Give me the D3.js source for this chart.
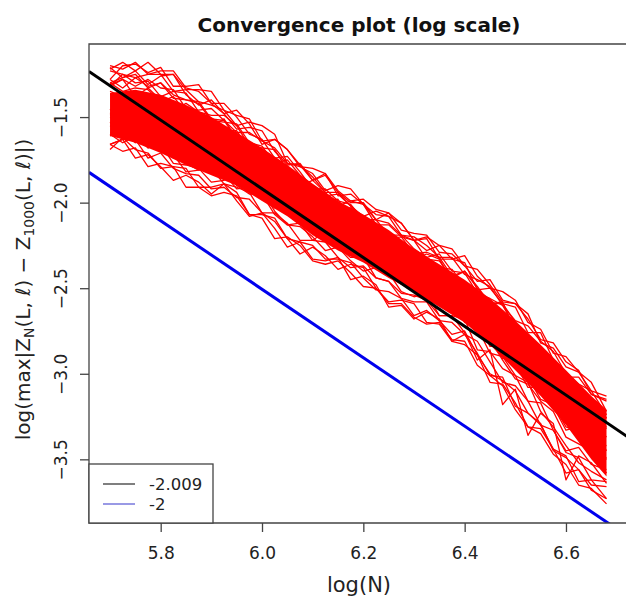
<!DOCTYPE html>
<html>
<head>
<meta charset="utf-8">
<script src="https://cdn.jsdelivr.net/npm/d3@7"></script>
<style>
  body { margin: 0; background: #fff; }
  svg { display: block; font-family: "DejaVu Sans", sans-serif; }
</style>
</head>
<body>
<svg id="chart" width="626" height="597"></svg>
<script>
//* Data
const logN = [5.700, 5.725, 5.750, 5.775, 5.800, 5.825, 5.850, 5.875, 5.900, 5.925,
  5.950, 5.975, 6.000, 6.025, 6.050, 6.075, 6.100, 6.125, 6.150, 6.175,
  6.200, 6.225, 6.250, 6.275, 6.300, 6.325, 6.350, 6.375, 6.400, 6.425,
  6.450, 6.475, 6.500, 6.525, 6.550, 6.575, 6.600, 6.625, 6.650, 6.680];

// individual runs of the error curve
const run01 = [-1.22,-1.18,-1.23,-1.18,-1.25,-1.25,-1.34,-1.34,-1.35,-1.46,-1.49,-1.51,-1.64,-1.63,-1.69,-1.79,-1.80,-1.83,-1.93,-1.99,-1.98,-2.04,-2.06,-2.16,-2.18,-2.19,-2.29,-2.30,-2.37,-2.39,-2.48,-2.58,-2.59,-2.68,-2.80,-2.82,-2.93,-2.98,-3.12,-3.15];
const run02 = [-1.20,-1.22,-1.18,-1.25,-1.23,-1.23,-1.33,-1.35,-1.42,-1.42,-1.50,-1.60,-1.63,-1.74,-1.73,-1.82,-1.92,-1.96,-1.95,-2.02,-2.10,-2.10,-2.19,-2.19,-2.27,-2.32,-2.30,-2.40,-2.41,-2.53,-2.56,-2.60,-2.73,-2.83,-2.85,-2.96,-3.00,-3.14,-3.17,-3.28];
const run03 = [-1.30,-1.27,-1.25,-1.33,-1.30,-1.37,-1.40,-1.41,-1.51,-1.52,-1.59,-1.59,-1.64,-1.68,-1.77,-1.79,-1.83,-1.93,-1.90,-1.92,-2.01,-2.07,-2.08,-2.12,-2.22,-2.20,-2.25,-2.33,-2.31,-2.43,-2.50,-2.52,-2.57,-2.70,-2.74,-2.88,-2.90,-2.99,-3.10,-3.13];
const run04 = [-1.23,-1.25,-1.27,-1.25,-1.25,-1.35,-1.34,-1.41,-1.43,-1.46,-1.55,-1.53,-1.55,-1.60,-1.77,-1.78,-1.85,-1.94,-1.94,-2.00,-2.00,-2.10,-2.12,-2.19,-2.20,-2.25,-2.32,-2.32,-2.42,-2.45,-2.49,-2.60,-2.69,-2.72,-2.81,-2.87,-3.00,-3.06,-3.10,-3.24];
const run05 = [-1.28,-1.33,-1.27,-1.32,-1.30,-1.39,-1.40,-1.42,-1.52,-1.53,-1.54,-1.65,-1.67,-1.77,-1.75,-1.84,-1.92,-1.92,-1.99,-2.01,-2.10,-2.13,-2.13,-2.20,-2.30,-2.29,-2.32,-2.43,-2.40,-2.50,-2.59,-2.59,-2.70,-2.82,-2.85,-3.00,-3.00,-3.13,-3.15,-3.26];
const run06 = [-1.35,-1.38,-1.35,-1.43,-1.41,-1.42,-1.52,-1.54,-1.60,-1.59,-1.63,-1.72,-1.76,-1.86,-1.85,-1.90,-2.01,-2.04,-2.03,-2.10,-2.18,-2.18,-2.27,-2.27,-2.35,-2.40,-2.38,-2.48,-2.49,-2.62,-2.65,-2.70,-2.82,-2.92,-2.95,-3.06,-3.10,-3.24,-3.27,-3.37];
const run07 = [-1.46,-1.43,-1.42,-1.51,-1.48,-1.56,-1.59,-1.60,-1.69,-1.69,-1.76,-1.76,-1.85,-1.89,-1.99,-2.01,-2.04,-2.13,-2.13,-2.15,-2.24,-2.31,-2.32,-2.36,-2.46,-2.43,-2.49,-2.57,-2.55,-2.68,-2.77,-2.80,-2.86,-2.99,-3.04,-3.19,-3.22,-3.30,-3.40,-3.42];
const run08 = [-1.50,-1.53,-1.56,-1.56,-1.56,-1.67,-1.68,-1.73,-1.74,-1.76,-1.84,-1.89,-1.89,-2.01,-2.07,-2.08,-2.14,-2.22,-2.21,-2.27,-2.27,-2.38,-2.40,-2.47,-2.48,-2.52,-2.60,-2.60,-2.70,-2.74,-2.80,-2.92,-3.03,-3.06,-3.16,-3.22,-3.37,-3.41,-3.45,-3.58];
const run09 = [-1.61,-1.58,-1.65,-1.63,-1.70,-1.72,-1.82,-1.81,-1.80,-1.89,-1.91,-1.94,-2.06,-2.06,-2.12,-2.22,-2.22,-2.23,-2.32,-2.38,-2.37,-2.44,-2.46,-2.56,-2.58,-2.58,-2.69,-2.70,-2.77,-2.81,-2.93,-3.05,-3.07,-3.16,-3.30,-3.33,-3.46,-3.49,-3.62,-3.63];
const run10 = [-1.66,-1.70,-1.68,-1.79,-1.77,-1.79,-1.91,-1.91,-1.96,-1.94,-1.96,-2.07,-2.09,-2.21,-2.20,-2.25,-2.34,-2.36,-2.34,-2.41,-2.49,-2.50,-2.59,-2.59,-2.67,-2.71,-2.70,-2.80,-2.81,-2.95,-3.01,-3.07,-3.21,-3.31,-3.35,-3.47,-3.53,-3.65,-3.67,-3.76];
const run11 = [-1.66,-1.63,-1.63,-1.74,-1.71,-1.80,-1.83,-1.84,-1.92,-1.91,-1.97,-1.98,-2.06,-2.11,-2.21,-2.23,-2.25,-2.33,-2.33,-2.35,-2.44,-2.51,-2.52,-2.56,-2.66,-2.63,-2.69,-2.77,-2.75,-2.89,-3.00,-3.04,-3.10,-3.23,-3.29,-3.45,-3.49,-3.56,-3.65,-3.66];
const run12 = [-1.55,-1.59,-1.62,-1.62,-1.62,-1.74,-1.74,-1.80,-1.80,-1.82,-1.90,-1.95,-1.95,-2.07,-2.13,-2.14,-2.20,-2.28,-2.26,-2.32,-2.32,-2.44,-2.46,-2.53,-2.54,-2.57,-2.66,-2.66,-2.76,-2.92,-2.86,-3.18,-3.09,-3.36,-3.23,-3.29,-3.62,-3.48,-3.52,-3.64];
const run13 = [-1.60,-1.65,-1.61,-1.68,-1.66,-1.77,-1.78,-1.80,-1.88,-1.87,-1.79,-1.91,-1.92,-2.03,-2.01,-2.10,-2.17,-2.16,-2.23,-2.25,-2.26,-2.29,-2.29,-2.36,-2.46,-2.37,-2.40,-2.51,-2.48,-2.59,-2.68,-2.69,-2.79,-2.82,-2.85,-3.00,-3.00,-3.13,-3.15,-3.26];
const run14 = [-1.31,-1.28,-1.32,-1.28,-1.33,-1.34,-1.45,-1.46,-1.45,-1.52,-1.63,-1.66,-1.78,-1.78,-1.89,-1.93,-1.96,-2.05,-2.05,-2.14,-2.17,-2.21,-2.34,-2.40,-2.42,-2.42,-2.51,-2.57,-2.59,-2.73,-2.88,-2.90,-3.01,-3.05,-3.22,-3.31,-3.42,-3.52,-3.57,-3.62];
const run15 = [-1.30,-1.35,-1.33,-1.34,-1.41,-1.38,-1.47,-1.51,-1.51,-1.58,-1.58,-1.69,-1.72,-1.75,-1.86,-1.87,-1.94,-2.02,-2.04,-2.03,-2.09,-2.18,-2.18,-2.25,-2.34,-2.32,-2.38,-2.39,-2.49,-2.54,-2.65,-2.66,-2.79,-2.81,-2.93,-3.03,-3.05,-3.12,-3.21,-3.32];
const run16 = [-1.49,-1.46,-1.52,-1.50,-1.57,-1.58,-1.68,-1.67,-1.67,-1.77,-1.78,-1.82,-1.93,-1.94,-2.00,-2.10,-2.09,-2.11,-2.20,-2.26,-2.25,-2.32,-2.34,-2.44,-2.46,-2.46,-2.57,-2.58,-2.65,-2.68,-2.80,-2.91,-2.93,-3.02,-3.15,-3.18,-3.31,-3.34,-3.47,-3.49];
const run17 = [-1.21,-1.27,-1.23,-1.31,-1.26,-1.25,-1.37,-1.43,-1.40,-1.48,-1.57,-1.56,-1.58,-1.70,-1.78,-1.77,-1.87,-1.84,-1.94,-2.02,-2.08,-2.05,-2.08,-2.19,-2.22,-2.21,-2.33,-2.33,-2.35,-2.51,-2.50,-2.59,-2.61,-2.76,-2.76,-2.92,-3.02,-3.02,-3.12,-3.16];
const run18 = [-1.32,-1.25,-1.30,-1.29,-1.38,-1.35,-1.36,-1.47,-1.49,-1.49,-1.55,-1.67,-1.68,-1.69,-1.81,-1.90,-1.87,-1.94,-2.02,-1.99,-2.01,-2.13,-2.21,-2.20,-2.22,-2.33,-2.34,-2.44,-2.40,-2.49,-2.59,-2.58,-2.75,-2.79,-2.84,-2.97,-2.99,-3.16,-3.16,-3.29];
const run19 = [-1.32,-1.28,-1.38,-1.33,-1.40,-1.46,-1.42,-1.47,-1.56,-1.51,-1.63,-1.70,-1.70,-1.77,-1.88,-1.85,-1.97,-1.99,-1.98,-2.11,-2.09,-2.13,-2.26,-2.25,-2.33,-2.30,-2.33,-2.46,-2.48,-2.53,-2.66,-2.65,-2.75,-2.89,-2.88,-2.99,-3.11,-3.11,-3.24,-3.31];
const run20 = [-1.46,-1.39,-1.39,-1.46,-1.43,-1.55,-1.55,-1.54,-1.64,-1.69,-1.66,-1.75,-1.86,-1.84,-1.90,-1.99,-2.07,-2.02,-2.14,-2.13,-2.19,-2.29,-2.25,-2.31,-2.41,-2.46,-2.44,-2.46,-2.56,-2.66,-2.67,-2.80,-2.82,-2.88,-3.06,-3.10,-3.22,-3.24,-3.29,-3.45];
const run21 = [-1.53,-1.60,-1.58,-1.68,-1.63,-1.63,-1.77,-1.81,-1.77,-1.83,-1.92,-1.91,-1.93,-2.05,-2.13,-2.12,-2.22,-2.17,-2.26,-2.34,-2.40,-2.38,-2.41,-2.52,-2.55,-2.53,-2.66,-2.66,-2.68,-2.86,-2.87,-2.97,-3.01,-3.16,-3.17,-3.33,-3.45,-3.43,-3.53,-3.56];
const run22 = [-1.69,-1.62,-1.69,-1.71,-1.80,-1.79,-1.80,-1.91,-1.91,-1.89,-1.94,-2.07,-2.07,-2.09,-2.21,-2.30,-2.26,-2.31,-2.39,-2.36,-2.38,-2.50,-2.58,-2.57,-2.59,-2.70,-2.71,-2.81,-2.77,-2.88,-3.01,-3.02,-3.19,-3.23,-3.30,-3.44,-3.48,-3.63,-3.62,-3.73];
const run23 = [-1.48,-1.44,-1.54,-1.51,-1.58,-1.65,-1.61,-1.66,-1.74,-1.69,-1.79,-1.88,-1.86,-1.95,-2.06,-2.03,-2.13,-2.15,-2.14,-2.27,-2.25,-2.29,-2.42,-2.41,-2.49,-2.46,-2.49,-2.62,-2.64,-2.69,-2.84,-2.84,-2.94,-3.08,-3.08,-3.19,-3.33,-3.31,-3.44,-3.50];
const run24 = [-1.28,-1.20,-1.19,-1.24,-1.21,-1.32,-1.32,-1.31,-1.42,-1.48,-1.46,-1.54,-1.66,-1.63,-1.69,-1.78,-1.87,-1.83,-1.96,-1.95,-2.01,-2.10,-2.06,-2.12,-2.22,-2.28,-2.25,-2.27,-2.37,-2.46,-2.45,-2.57,-2.59,-2.65,-2.82,-2.85,-2.96,-2.99,-3.05,-3.22];
const run25 = [-1.66,-1.63,-1.74,-1.72,-1.79,-1.87,-1.84,-1.88,-1.95,-1.89,-1.99,-2.08,-2.06,-2.15,-2.26,-2.23,-2.33,-2.34,-2.32,-2.45,-2.43,-2.48,-2.61,-2.60,-2.68,-2.64,-2.68,-2.81,-2.83,-2.89,-3.05,-3.06,-3.17,-3.31,-3.32,-3.44,-3.58,-3.56,-3.68,-3.73];
const runs = [run01, run02, run03, run04, run05, run06, run07, run08, run09,
  run10, run11, run12, run13, run14, run15, run16, run17, run18, run19,
  run20, run21, run22, run23, run24, run25];

// dense core of the bundle where the runs overlap
const coreX = [5.70, 5.75, 5.80, 5.85, 5.90, 5.95, 6.00, 6.05, 6.10, 6.15, 6.20,
  6.25, 6.30, 6.35, 6.40, 6.45, 6.50, 6.55, 6.60, 6.65, 6.68];
const coreTop = [-1.36,-1.34,-1.37,-1.43,-1.50,-1.59,-1.68,-1.78,-1.89,-1.99,-2.07,
  -2.16,-2.27,-2.36,-2.45,-2.56,-2.69,-2.83,-2.98,-3.13,-3.21];
const coreBottom = [-1.61,-1.65,-1.71,-1.78,-1.84,-1.90,-1.99,-2.08,-2.19,-2.28,-2.35,
  -2.44,-2.52,-2.61,-2.70,-2.83,-2.98,-3.13,-3.30,-3.50,-3.60];

// reference lines (abline) and legend
const lineLabels = ["-2.009", "-2"];
const lineSlopes = [-2.009, -2];
const lineIntercepts = [10.135, 9.494];
const lineColors = ["#000000", "#0000ee"];

const xTicks = [5.8, 6.0, 6.2, 6.4, 6.6];
const yTicks = [-1.5, -2.0, -2.5, -3.0, -3.5];

//* Set chart area
const plot = { left: 89, right: 629, top: 44, bottom: 523 };

const svg = d3.select("#chart");

const x = d3.scaleLinear()
  .domain([5.6585, 6.7244])
  .range([plot.left, plot.right]);

const y = d3.scaleLinear()
  .domain([-3.872, -1.073])
  .range([plot.bottom, plot.top]);

svg.append("defs").append("clipPath")
  .attr("id", "clip")
  .append("rect")
  .attr("x", plot.left)
  .attr("y", plot.top)
  .attr("width", plot.right - plot.left)
  .attr("height", plot.bottom - plot.top);

const g = svg.append("g").attr("clip-path", "url(#clip)");

//* Runs
g.append("path")
  .datum(coreX)
  .attr("fill", "#ff0000")
  .attr("d", d3.area()
    .x(d => x(d))
    .y0((d, i) => y(coreBottom[i]))
    .y1((d, i) => y(coreTop[i])));

const line = d3.line()
  .x((d, i) => x(logN[i]))
  .y(d => y(d));

g.selectAll(".run")
  .data(runs)
  .enter()
  .append("path")
  .attr("class", "run")
  .attr("fill", "none")
  .attr("stroke", "#ff0000")
  .attr("stroke-width", 1.3)
  .attr("stroke-linejoin", "round")
  .attr("d", line);

//* Fitted lines
const xd = x.domain();
g.selectAll(".abline")
  .data(lineSlopes)
  .enter()
  .append("line")
  .attr("class", "abline")
  .attr("x1", x(xd[0]))
  .attr("y1", (d, i) => y(lineIntercepts[i] + d * xd[0]))
  .attr("x2", x(xd[1]))
  .attr("y2", (d, i) => y(lineIntercepts[i] + d * xd[1]))
  .attr("stroke", (d, i) => lineColors[i])
  .attr("stroke-width", 3);

//* Box and axes
const axisColor = "#444";
svg.append("path")
  .attr("d", `M${plot.right + 5},${plot.top}H${plot.left}V${plot.bottom}H${plot.right + 5}`)
  .attr("fill", "none")
  .attr("stroke", axisColor)
  .attr("stroke-width", 1.3);

const xAxis = svg.append("g")
  .attr("transform", `translate(0, ${plot.bottom})`)
  .call(d3.axisBottom(x).tickValues(xTicks).tickFormat(d3.format(".1f")).tickSize(9).tickPadding(15));
xAxis.select(".domain").remove();
xAxis.selectAll("line").attr("stroke", axisColor).attr("stroke-width", 1.3);
xAxis.selectAll("text")
  .attr("font-size", "17px")
  .attr("font-family", "DejaVu Sans")
  .attr("fill", "#222");

const yAxis = svg.append("g")
  .attr("transform", `translate(${plot.left}, 0)`)
  .call(d3.axisLeft(y).tickValues(yTicks).tickFormat(d3.format(".1f")).tickSize(9));
yAxis.select(".domain").remove();
yAxis.selectAll("line").attr("stroke", axisColor).attr("stroke-width", 1.3);
yAxis.selectAll("text")
  .attr("x", null)
  .attr("dy", null)
  .attr("transform", "translate(-22, 0) rotate(-90)")
  .attr("text-anchor", "middle")
  .attr("font-size", "17px")
  .attr("font-family", "DejaVu Sans")
  .attr("fill", "#222");

//* Titles
svg.append("text")
  .attr("x", (plot.left + plot.right) / 2)
  .attr("y", 32)
  .attr("text-anchor", "middle")
  .attr("font-size", "20px")
  .attr("font-weight", "bold")
  .attr("fill", "#111")
  .text("Convergence plot (log scale)");

svg.append("text")
  .attr("x", (plot.left + plot.right) / 2)
  .attr("y", 592)
  .attr("text-anchor", "middle")
  .attr("font-size", "21px")
  .attr("fill", "#222")
  .text("log(N)");

const ylab = svg.append("text")
  .attr("transform", `translate(30, ${(plot.top + plot.bottom) / 2 + 6}) rotate(-90)`)
  .attr("text-anchor", "middle")
  .attr("font-size", "20px")
  .attr("fill", "#222");
ylab.append("tspan").text("log(max|Z");
ylab.append("tspan").attr("font-size", "14px").attr("dy", 4).text("N");
ylab.append("tspan").attr("dy", -4).text("(L, \u2113) \u2212 Z");
ylab.append("tspan").attr("font-size", "14px").attr("dy", 4).text("1000");
ylab.append("tspan").attr("dy", -4).text("(L, \u2113)|)");

//* Legend
const legend = svg.append("g");
legend.append("rect")
  .attr("x", plot.left)
  .attr("y", 464)
  .attr("width", 124)
  .attr("height", plot.bottom - 464)
  .attr("fill", "#fff")
  .attr("stroke", axisColor)
  .attr("stroke-width", 1.3);

const legendColors = ["#555", "#7777dd"];
lineLabels.forEach((lab, i) => {
  legend.append("line")
    .attr("x1", 103)
    .attr("x2", 135)
    .attr("y1", 484 + i * 20)
    .attr("y2", 484 + i * 20)
    .attr("stroke", legendColors[i])
    .attr("stroke-width", 1.5);
  legend.append("text")
    .attr("x", 149)
    .attr("y", 490 + i * 20)
    .attr("font-size", "16.5px")
    .attr("fill", "#222")
    .text(lab);
});
</script>
</body>
</html>
